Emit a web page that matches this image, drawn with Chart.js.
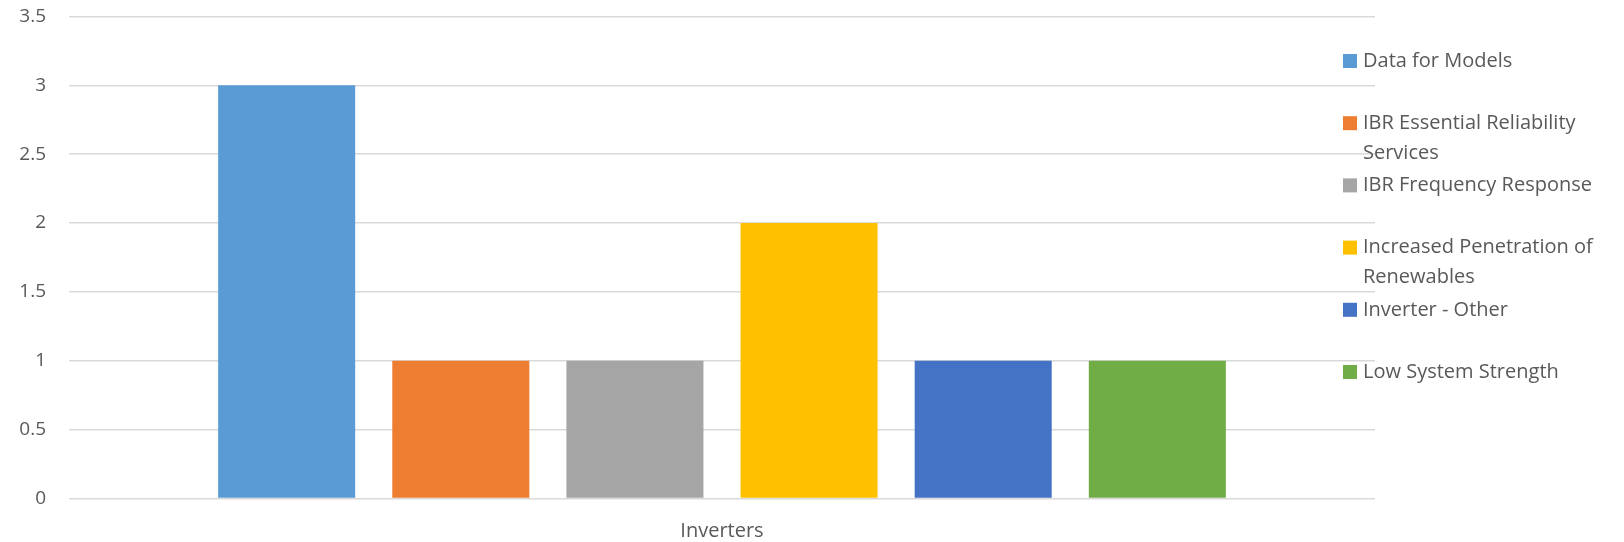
<!DOCTYPE html>
<html>
<head>
<meta charset="utf-8">
<script src="https://cdn.jsdelivr.net/npm/chart.js@4/dist/chart.umd.min.js"></script>
<style>
  html, body { margin: 0; padding: 0; background: #fff; }
  #wrap { width: 1624px; height: 542px; position: relative; }
</style>
</head>
<body>
<div id="wrap"><canvas id="myChart"></canvas></div>
<script>
// values
const categories = ["Inverters"];
const seriesNames = [
  "Data for Models",
  "IBR Essential Reliability Services",
  "IBR Frequency Response",
  "Increased Penetration of Renewables",
  "Inverter - Other",
  "Low System Strength"
];
const seriesValues = [3, 1, 1, 2, 1, 1];
const seriesColors = ["#5B9BD5", "#ED7D31", "#A5A5A5", "#FFC000", "#4472C4", "#70AD47"];
const yMax = 3.5;
const yStep = 0.5;

const FONT = "'Open Sans', 'DejaVu Sans', sans-serif";
const TEXT = "#595959";

// legend on the right, drawn by hand so long names wrap like the original
const sideLegend = {
  id: "sideLegend",
  afterDraw(chart) {
    const ctx = chart.ctx;
    const x0 = 1343, textX = 1363, maxW = 250;
    let y = 61;
    ctx.save();
    ctx.font = "20px " + FONT;
    ctx.textBaseline = "middle";
    chart.data.datasets.forEach((ds) => {
      // wrap words
      const words = ds.label.split(" ");
      const lines = [];
      let cur = "";
      words.forEach((w) => {
        const t = cur ? cur + " " + w : w;
        if (ctx.measureText(t).width > maxW && cur) {
          lines.push(cur);
          cur = w;
        } else {
          cur = t;
        }
      });
      lines.push(cur);

      ctx.fillStyle = ds.backgroundColor;
      ctx.fillRect(x0, y - 7, 14, 14);
      ctx.fillStyle = TEXT;
      lines.forEach((ln, i) => ctx.fillText(ln, textX, y + i * 30));
      y += 62.2;
    });
    ctx.restore();
  }
};

const ctx = document.getElementById("myChart");
new Chart(ctx, {
  type: "bar",
  data: {
    labels: categories,
    datasets: seriesNames.map((name, i) => ({
      label: name,
      data: [seriesValues[i]],
      backgroundColor: seriesColors[i],
      borderWidth: 0
    }))
  },
  options: {
    responsive: true,
    maintainAspectRatio: false,
    devicePixelRatio: 1,
    animation: false,
    categoryPercentage: 0.8,
    barPercentage: 0.787,
    layout: { padding: { left: 0, right: 249, top: 16.5, bottom: 0 } },
    plugins: {
      legend: { display: false },
      tooltip: { enabled: false }
    },
    scales: {
      x: {
        grid: { display: false },
        border: { display: false },
        ticks: { color: TEXT, font: { family: FONT, size: 20 }, padding: 13 },
        afterFit(scale) { scale.height = 43.5; }
      },
      y: {
        min: 0,
        max: yMax,
        ticks: {
          stepSize: yStep,
          color: TEXT,
          font: { family: FONT, size: 19 },
          padding: 23,
          callback: (v) => String(v)
        },
        grid: { color: "#D9D9D9", lineWidth: 1.5, drawTicks: false },
        border: { display: false },
        afterFit(scale) {
          scale.width = 69;
          // tick padding also pushes the top down, drop it
          scale.paddingTop = 0;
          scale.paddingBottom = 0;
        }
      }
    }
  },
  plugins: [sideLegend]
});
</script>
</body>
</html>
